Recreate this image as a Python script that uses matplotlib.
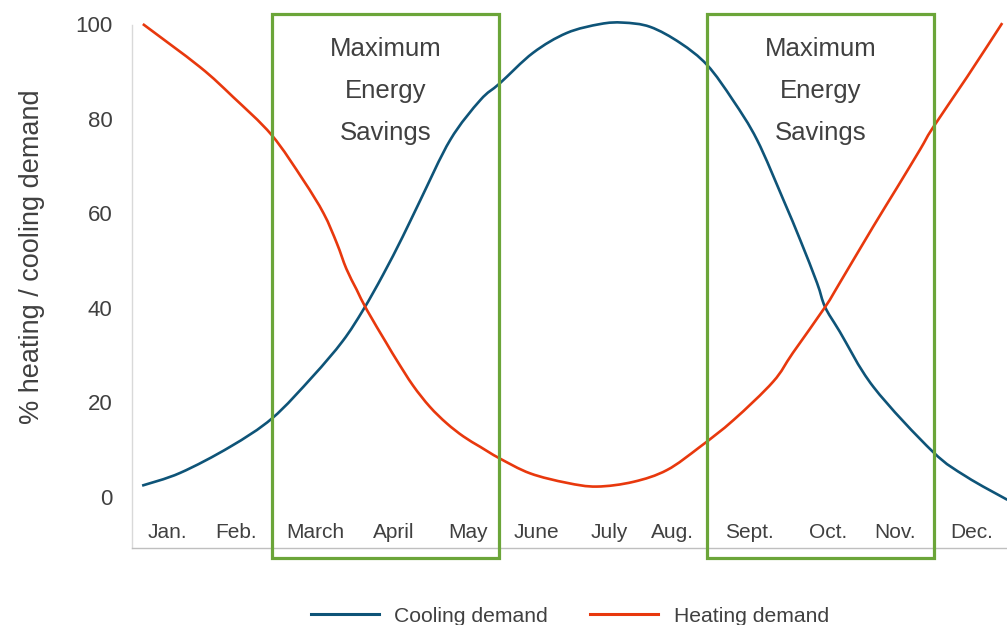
import numpy as np
import matplotlib
matplotlib.use("Agg")
import matplotlib.pyplot as plt
from matplotlib.patches import Rectangle, PathPatch
from matplotlib.path import Path
from matplotlib.lines import Line2D

# ── Data (x in month units, Jan = 0) ─────────────────────────
months   = ["Jan.", "Feb.", "March", "April", "May", "June",
            "July", "Aug.", "Sept.", "Oct.", "Nov.", "Dec."]
month_x  = [0, 0.94, 2.02, 3.10, 4.11, 5.05, 6.04, 6.91, 7.96, 9.03, 9.94, 10.99]

cool_x = [-0.34, 0.18, 0.86, 1.44, 1.99, 2.40, 2.68, 2.95, 3.22, 3.46, 3.87, 4.28,
          4.55, 5.00, 5.46, 5.92, 6.23, 6.60, 7.01, 7.38, 7.73, 8.06, 8.42, 8.65,
          8.88, 8.99, 9.19, 9.65, 10.46, 10.92, 11.48]
cool_y = [2.4, 5.1, 10.6, 16.7, 25.5, 33.0, 39.6, 47.0, 55.1, 62.8, 75.6, 84.0,
          87.6, 94.0, 98.2, 100.1, 100.4, 99.5, 96.1, 91.4, 84.0, 75.6, 62.9, 54.4,
          45.3, 40.2, 35.0, 23.3, 9.6, 4.3, -0.6]

heat_x = [-0.33, 0.45, 0.90, 1.43, 1.86, 2.14, 2.32, 2.45, 2.59, 2.73, 3.00, 3.14,
          3.36, 3.59, 3.82, 4.05, 4.28, 4.54, 4.96, 5.46, 5.87, 6.37, 6.83, 7.28,
          7.74, 8.28, 8.55, 8.99, 9.19, 9.65, 9.97, 10.29, 10.46, 10.93, 11.41]
heat_y = [100.1, 91.0, 84.7, 76.6, 67.1, 60.0, 53.7, 48.3, 43.9, 39.6, 32.5, 28.9,
          23.6, 19.1, 15.6, 12.8, 10.6, 8.2, 5.0, 3.0, 2.2, 3.2, 5.7, 10.6,
          16.3, 24.4, 30.5, 40.2, 45.3, 57.3, 65.4, 73.6, 78.1, 88.9, 100.3]

# savings windows: (x start, x end)
windows = [(1.44, 4.54), (7.38, 10.48)]
window_label = "Maximum\nEnergy\nSavings"

# ── Style ───────────────────────────────────────────────────
plt.rcParams["font.family"] = ["Liberation Sans", "DejaVu Sans"]
TXT   = "#404040"
BLUE  = "#0E5478"
RED   = "#E8380D"
GREEN = "#6BA539"


def smooth_path(xs, ys):
    # smoothed line (like a spreadsheet "smoothed line"): cubic Bezier through the points
    p = np.column_stack([xs, ys])
    verts = [p[0]]
    codes = [Path.MOVETO]
    n = len(p)
    for i in range(n - 1):
        p0 = p[i - 1] if i > 0 else p[i]
        p3 = p[i + 2] if i + 2 < n else p[i + 1]
        c1 = p[i] + (p[i + 1] - p0) / 6
        c2 = p[i + 1] - (p3 - p[i]) / 6
        verts += [c1, c2, p[i + 1]]
        codes += [Path.CURVE4] * 3
    return Path(verts, codes)


fig = plt.figure(figsize=(10.07, 6.25), dpi=100)
ax = fig.add_axes([0.1311, 0.1232, 0.8689, 0.8376])

for xs, ys, c in [(cool_x, cool_y, BLUE), (heat_x, heat_y, RED)]:
    ax.add_patch(PathPatch(smooth_path(xs, ys), fill=False, edgecolor=c,
                           lw=1.9, clip_on=False, capstyle="butt"))

for x0, x1 in windows:
    ax.add_patch(Rectangle((x0, -12.9), x1 - x0, 115.1, fill=False,
                           edgecolor=GREEN, lw=2.3, clip_on=False, zorder=3))
    ax.text((x0 + x1) / 2, 86.0, window_label, ha="center", va="center",
            fontsize=18.5, color=TXT, linespacing=1.94)

for m, x in zip(months, month_x):
    ax.text(x, -7.6, m, ha="center", va="center", fontsize=15, color=TXT)

ax.set_xlim(-0.478, 11.475)
ax.set_ylim(-10.8, 100)
ax.set_yticks([0, 20, 40, 60, 80, 100])
ax.set_xticks([])
ax.tick_params(axis="y", length=0, pad=14, labelsize=16, labelcolor=TXT)
ax.set_ylabel("% heating / cooling demand", fontsize=19.5, color=TXT)
ax.yaxis.set_label_coords(-0.1, 0.556)

for s in ["top", "right"]:
    ax.spines[s].set_visible(False)
ax.spines["left"].set_color("#d9d9d9")
ax.spines["bottom"].set_color("#bfbfbf")
ax.spines["left"].set_linewidth(1.0)
ax.spines["bottom"].set_linewidth(1.0)

handles = [Line2D([], [], color=BLUE, lw=2.2), Line2D([], [], color=RED, lw=2.2)]
fig.legend(handles, ["Cooling demand", "Heating demand"], loc="center",
           bbox_to_anchor=(0.566, 0.014), ncol=2, frameon=False,
           fontsize=15.2, handlelength=3.2, handletextpad=0.75, columnspacing=2.0,
           labelcolor=TXT)

fig.savefig("out.png", dpi=100)
